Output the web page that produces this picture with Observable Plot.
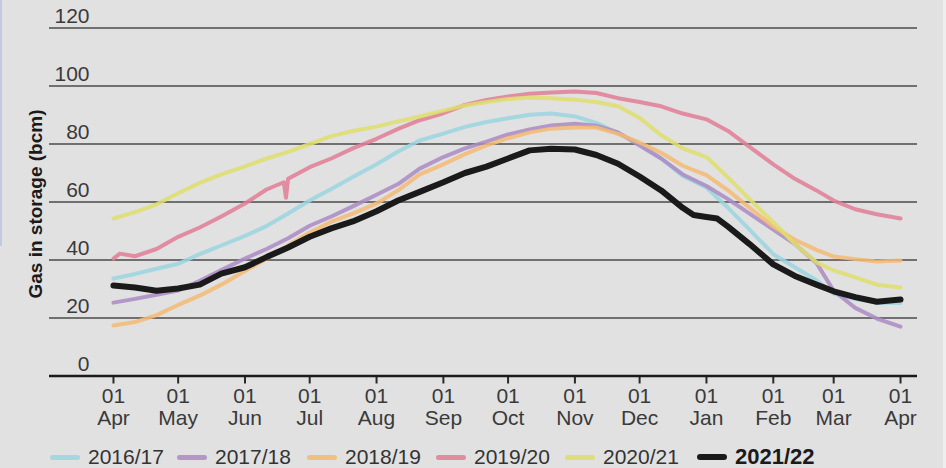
<!DOCTYPE html>
<html><head><meta charset="utf-8">
<script src="https://cdn.jsdelivr.net/npm/d3@7"></script>
<script src="https://cdn.jsdelivr.net/npm/@observablehq/plot@0.6"></script>
<style>
html,body{margin:0;padding:0;background:#e1e1e1;width:946px;height:468px;overflow:hidden;font-family:"Liberation Sans",Arial,sans-serif;}
#wrap{position:relative;width:946px;height:468px;}
#wrap::before{content:"";position:absolute;left:0;top:0;width:2px;height:246px;background:#c3c9e2;}
#wrap::after{content:"";position:absolute;right:0;top:0;width:3px;height:468px;background:#eeeeee;}
#chart svg{display:block}
#legend{display:flex;align-items:center;height:28px;padding-left:50px;font-size:21px;color:#333;margin-top:3px;white-space:nowrap}
.item{display:flex;align-items:center;flex:none}
.sw{display:inline-block;width:30px;height:5px;border-radius:3px;margin-right:8px}
</style></head>
<body><div id="wrap"><div id="chart"></div><div id="legend"></div></div>
<script>
const seasons = ["2016/17","2017/18","2018/19","2019/20","2020/21","2021/22"];
const lineColors = ["#9ad5e1","#ac89c4","#f3ba71","#e17d95","#dede6c","#1a1a1a"];
const swatchColors = ["#a5d7e1","#b496c8","#f0c082","#e18ca0","#dede7d","#1a1a1a"];
const yTicks = [0,20,40,60,80,100,120];
const monthNames = ["Apr","May","Jun","Jul","Aug","Sep","Oct","Nov","Dec","Jan","Feb","Mar","Apr"];

const dates = ["2021-04-01","2021-04-11","2021-04-21","2021-05-01","2021-05-11","2021-05-21",
  "2021-06-01","2021-06-11","2021-06-21","2021-07-01","2021-07-11","2021-07-21",
  "2021-08-01","2021-08-11","2021-08-21","2021-09-01","2021-09-11","2021-09-21",
  "2021-10-01","2021-10-11","2021-10-21","2021-11-01","2021-11-11","2021-11-21",
  "2021-12-01","2021-12-11","2021-12-21","2022-01-01","2022-01-11","2022-01-21",
  "2022-02-01","2022-02-11","2022-02-21","2022-03-01","2022-03-11","2022-03-21","2022-04-01"];

const s2016 = [33.6,35.2,37,38.7,42,45,48.3,51.7,56,60.5,64.5,68.6,73,77.4,81.2,83.6,85.9,87.6,88.9,90.1,90.5,89.5,87.3,83.7,80,75,69,65,58,50.5,42,37.5,33,28.4,26.5,25.3,25.2];
const s2017 = [25.3,26.6,28,29.5,32.8,36.5,40.5,43.8,47.5,51.8,55,58.5,62.5,66.2,71.5,75.5,78.5,80.8,83.3,85,86.4,87,86.3,84,79.5,75,69.5,65.5,61,56,50.5,45.5,39,29.4,23.5,19.8,17];
const s2018 = [17.4,18.6,21,24.5,27.7,31.5,36.2,40.5,45,49.5,53.2,56,59.5,64,69.5,73,76.5,79.5,82,84,85.3,85.7,85.7,83.5,80.5,77,72.5,69.3,64,58,51.5,47,43.5,41.2,40.3,39.5,39.8];
const s2019 = [40.5,41.3,43.8,48,51.2,55,59.5,64.3,68,72,75,78.5,81.8,85.2,88.2,90.6,93.5,95.2,96.4,97.3,97.8,98.1,97.6,95.8,94.5,93,90.5,88.5,84.5,79,73,68,64,60.5,57.5,55.8,54.3];
const s2020 = [54.3,56.5,59.2,63,66.6,69.5,72.3,75,77.3,80,82.7,84.5,86,87.8,89.5,91.5,93.3,94.5,95.5,96,95.8,95.3,94.5,93,89,83,78.5,75.5,68.5,61,53,45.5,39.2,36.4,34,31.5,30.5];
const s2021 = [31.2,30.5,29.4,30.2,31.5,35.3,37.5,41,44.3,48,50.9,53.3,56.8,60.5,63.5,66.8,70,72.2,75,77.8,78.4,78.1,76.2,73.2,68.8,64,58,54.8,51.5,45.5,38.5,34.5,31.5,29.2,27.2,25.6,26.4];
// extra daily readings (short features)
const extra2019 = [["2021-04-04",42.2],["2021-06-19",66.8],["2021-06-20",61.5]];
const extra2021 = [["2021-12-26",55.5],["2022-01-06",54.3]];

const seriesVals = [s2016,s2017,s2018,s2019,s2020,s2021];
const extras = {"2019/20": extra2019, "2021/22": extra2021};
const rows = [];
seasons.forEach((s,k)=>{
  const pts = dates.map((d,i)=>({date:new Date(d), value:seriesVals[k][i], season:s}));
  (extras[s]||[]).forEach(([d,v])=>pts.push({date:new Date(d), value:v, season:s}));
  pts.sort((a,b)=>a.date-b.date);
  rows.push(...pts);
});

const monthTicks = d3.utcMonth.range(new Date("2021-04-01"), new Date("2022-04-02"));
const x0 = new Date(Date.UTC(2021,2,2,8));
const x1 = new Date(Date.UTC(2022,3,8,21));

const chart = Plot.plot({
  width: 946, height: 440,
  marginLeft: 49, marginRight: 29, marginTop: 27.5, marginBottom: 64.5,
  style: {background:"transparent", fontFamily:"'Liberation Sans', Arial, sans-serif", fontSize:"21px", color:"#3a3a3a"},
  x: {type:"utc", domain:[x0,x1], label:null},
  y: {domain:[0,120], label:null},
  color: {domain: seasons, range: lineColors},
  marks: [
    Plot.ruleY(yTicks.filter(d=>d>0), {stroke:"#4a4a4a", strokeWidth:1.3}),
    Plot.axisY(yTicks, {anchor:"left", label:null, tickSize:0, tickPadding:0, dx:40, dy:-11.3, textAnchor:"end", fill:"#3a3a3a", fontSize:21}),
    Plot.axisX(monthTicks, {anchor:"bottom", label:null, tickSize:8, tickPadding:3, stroke:"#2a2a2a", strokeWidth:2, fill:"#3a3a3a", fontSize:21, lineHeight:1.06,
      tickFormat: (d,i)=>"01\n"+monthNames[i]}),
    Plot.line(rows.filter(d=>d.season!=="2021/22"), {x:"date", y:"value", z:"season", stroke:"season", strokeWidth:4, strokeOpacity:0.85}),
    Plot.line(rows.filter(d=>d.season==="2021/22"), {x:"date", y:"value", stroke:"#1a1a1a", strokeWidth:6}),
    Plot.ruleY([0], {stroke:"#1a1a1a", strokeWidth:2.5}),
    Plot.text(["Gas in storage (bcm)"], {text:d=>d, frameAnchor:"left", textAnchor:"middle", rotate:-90, dx:-14, dy:2, fontWeight:"bold", fontSize:19, fill:"#1a1a1a"})
  ]
});
document.getElementById("chart").appendChild(chart);

const itemWidths = [127,130,129,129,132,160];
const legend = document.getElementById("legend");
seasons.forEach((s,k)=>{
  const it = document.createElement("div"); it.className="item"; it.style.width = itemWidths[k]+"px";
  const sw = document.createElement("span"); sw.className="sw"; sw.style.background=swatchColors[k];
  const t = document.createElement("span"); t.textContent=s;
  if (k===5){ sw.style.height="6px"; t.style.fontWeight="bold"; t.style.color="#1a1a1a"; t.style.fontSize="22px"; }
  it.appendChild(sw); it.appendChild(t); legend.appendChild(it);
});
</script>
</body></html>
